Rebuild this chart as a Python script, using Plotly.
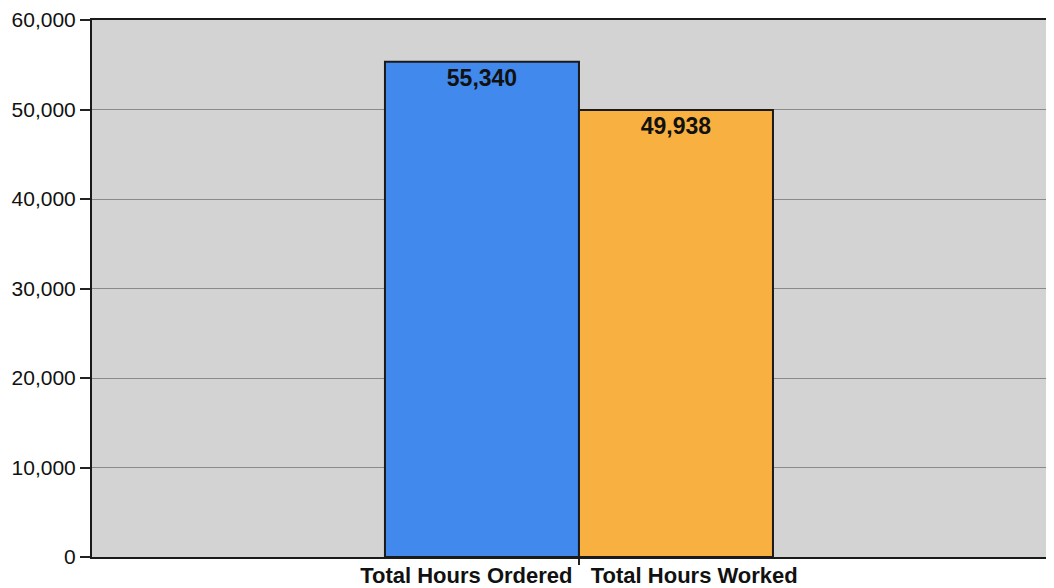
import plotly.graph_objects as go

# ---- data ----
series_names = ["Total Hours Ordered", "Total Hours Worked"]
series_values = [55340, 49938]
series_colors = ["#4189ec", "#f8b140"]
y_tick_values = [0, 10000, 20000, 30000, 40000, 50000, 60000]
category = ["all"]

label_text = "\u00a0\u00a0\u00a0".join(series_names)

fig = go.Figure()
for name, val, col in zip(series_names, series_values, series_colors):
    fig.add_trace(go.Bar(
        x=category, y=[val], name=name,
        marker=dict(color=col, line=dict(color="#1a1a1a", width=2)),
        text=[f"{val:,}"], textposition="inside", insidetextanchor="end",
        textangle=0, constraintext="none",
        textfont=dict(family="Liberation Sans, Arial", size=23, color="#111111", weight="bold"),
        cliponaxis=False,
    ))

# the page body has an 8px margin, so the figure is sized/offset to compensate
fig.update_layout(
    width=1046, height=580,
    margin=dict(l=84, r=0, t=12, b=31, pad=0, autoexpand=False),
    paper_bgcolor="white", plot_bgcolor="#d3d3d3",
    barmode="group", bargap=0.6, bargroupgap=0,
    showlegend=False,
    font=dict(family="Liberation Sans, Arial", color="#111111"),
)
fig.update_xaxes(
    type="category", range=[-0.502, 0.4897], automargin=False,
    tickvals=category, ticktext=[label_text],
    ticks="outside", ticklen=6, tickwidth=1.5, tickcolor="#222222",
    tickfont=dict(family="Liberation Sans, Arial", size=22, color="#111111", weight="bold"),
    showline=True, linecolor="#1a1a1a", linewidth=2, mirror=True,
    showgrid=False, ticklabelstandoff=-8,
)
fig.update_yaxes(
    range=[0, 60000], tickvals=y_tick_values, tickformat=",", automargin=False,
    ticks="outside", ticklen=10, tickwidth=2, tickcolor="#222222",
    tickfont=dict(family="Liberation Sans, Arial", size=21, color="#111111"),
    showline=True, linecolor="#1a1a1a", linewidth=2,
    showgrid=True, gridcolor="#8a8a8a", gridwidth=1,
    zeroline=False, ticklabelstandoff=0,
)

fig.write_html("out.html")
